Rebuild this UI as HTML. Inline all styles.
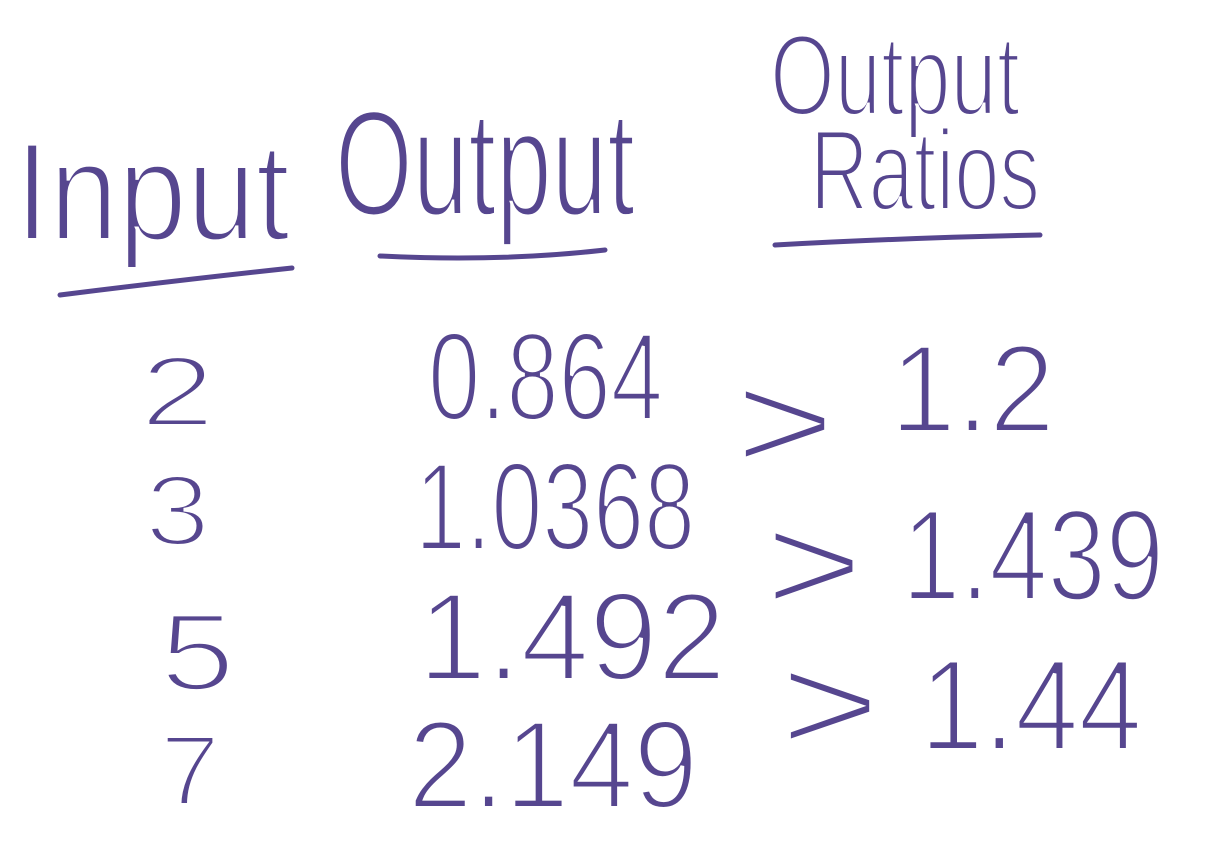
<!DOCTYPE html>
<html>
<head>
<meta charset="utf-8">
<style>
  html,body{margin:0;padding:0;background:#fff;}
  svg{display:block;}
  text{font-family:"Liberation Sans","DejaVu Sans",sans-serif;fill:#56468f;stroke:#fff;stroke-width:4;paint-order:fill;}
  .u{stroke:#56468f;stroke-width:5;fill:none;stroke-linecap:round;}
</style>
</head>
<body>
<svg width="1212" height="850" viewBox="0 0 1212 850">
  <text x="15" y="240" font-size="140" textLength="275" lengthAdjust="spacingAndGlyphs">Input</text>
  <path class="u" d="M60 295 Q180 280 292 268"/>
  <text x="335" y="215" font-size="150" textLength="300" lengthAdjust="spacingAndGlyphs">Output</text>
  <path class="u" d="M380 256 Q500 262 605 250"/>
  <text x="770" y="115" font-size="115" textLength="250" lengthAdjust="spacingAndGlyphs">Output</text>
  <text x="810" y="210" font-size="115" textLength="230" lengthAdjust="spacingAndGlyphs">Ratios</text>
  <path class="u" d="M775 245 Q900 238 1040 235"/>

  <text x="140" y="426" font-size="100" textLength="75" lengthAdjust="spacingAndGlyphs">2</text>
  <text x="145" y="545" font-size="100" textLength="65" lengthAdjust="spacingAndGlyphs">3</text>
  <text x="160" y="690" font-size="110" textLength="75" lengthAdjust="spacingAndGlyphs">5</text>
  <text x="160" y="805" font-size="100" textLength="60" lengthAdjust="spacingAndGlyphs">7</text>

  <text x="428" y="420" font-size="125" textLength="235" lengthAdjust="spacingAndGlyphs">0.864</text>
  <text x="415" y="550" font-size="125" textLength="280" lengthAdjust="spacingAndGlyphs">1.0368</text>
  <text x="418" y="680" font-size="125" textLength="308" lengthAdjust="spacingAndGlyphs">1.492</text>
  <text x="408" y="808" font-size="125" textLength="290" lengthAdjust="spacingAndGlyphs">2.149</text>

  <text x="735" y="470" font-size="140" textLength="100" lengthAdjust="spacingAndGlyphs">&gt;</text>
  <text x="765" y="612" font-size="140" textLength="98" lengthAdjust="spacingAndGlyphs">&gt;</text>
  <text x="780" y="752" font-size="140" textLength="100" lengthAdjust="spacingAndGlyphs">&gt;</text>

  <text x="890" y="432" font-size="125" textLength="165" lengthAdjust="spacingAndGlyphs">1.2</text>
  <text x="902" y="600" font-size="130" textLength="262" lengthAdjust="spacingAndGlyphs">1.439</text>
  <text x="920" y="750" font-size="130" textLength="222" lengthAdjust="spacingAndGlyphs">1.44</text>
</svg>
</body>
</html>
